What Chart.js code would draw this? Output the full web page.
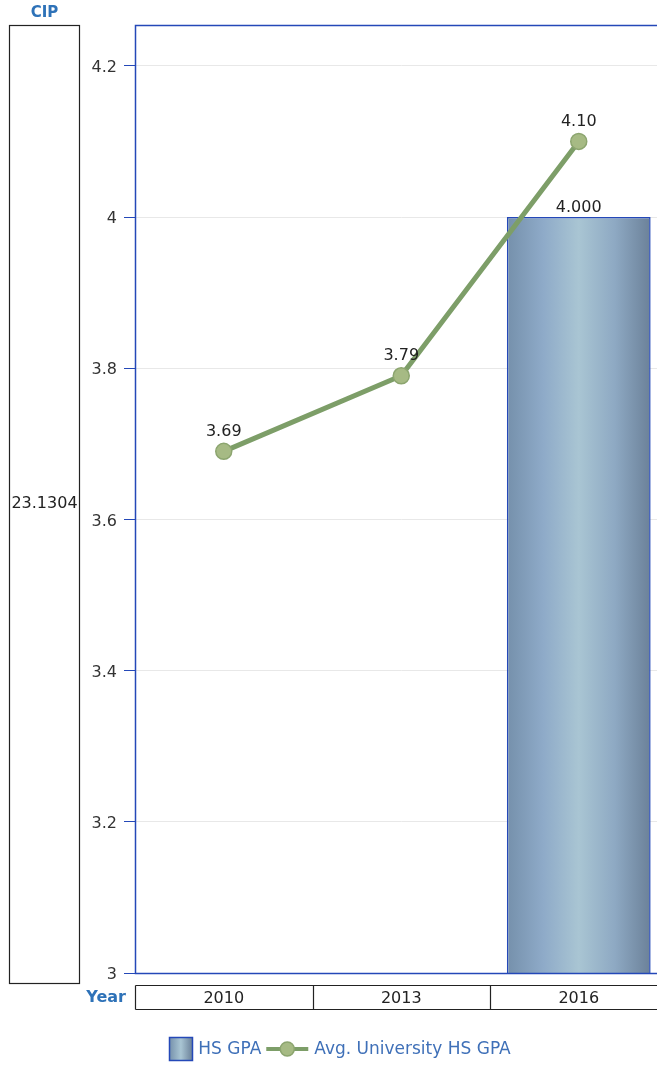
<!DOCTYPE html>
<html>
<head>
<meta charset="utf-8">
<script src="https://cdn.jsdelivr.net/npm/chart.js@4/dist/chart.umd.min.js"></script>
<style>
html,body{margin:0;padding:0;background:#fff;overflow:hidden;width:657px;height:1066px;}
canvas{display:block;}
</style>
</head>
<body>
<canvas id="c" width="680" height="1066"></canvas>
<script>
// ---- data ----
const years = ['2010', '2013', '2016'];
const hsGpa = [null, null, 4.0];
const avgUnivHsGpa = [3.69, 3.79, 4.10];
const yTicks = [3, 3.2, 3.4, 3.6, 3.8, 4, 4.2];
const yTickLabels = ['3', '3.2', '3.4', '3.6', '3.8', '4', '4.2'];
const cipValue = '23.1304';
const cipHeader = 'CIP';
const yearHeader = 'Year';
const seriesNames = ['HS GPA', 'Avg. University HS GPA'];

const FONT = 'DejaVu Sans';
const BLUE_BORDER = '#2448b8';
const HEADER_BLUE = '#2e72b8';
const LEGEND_BLUE = '#3f70b8';
const LINE_COLOR = '#7d9e68';
const POINT_FILL = '#a6ba84';
const POINT_BORDER = '#8ca56f';
const BAR_CAT_PCT = 0.81;

Chart.defaults.font.family = FONT;
Chart.defaults.font.size = 16;
Chart.defaults.color = '#222';

function makeBarGradient(ctx, x0, x1) {
  const g = ctx.createLinearGradient(x0, 0, x1, 0);
  g.addColorStop(0, '#7590ab');
  g.addColorStop(0.25, '#8eaac8');
  g.addColorStop(0.5, '#a9c5d3');
  g.addColorStop(0.75, '#8ea9c3');
  g.addColorStop(1, '#6b8199');
  return g;
}

const decorPlugin = {
  id: 'decor',
  beforeDatasetsDraw(chart) {
    const meta = chart.getDatasetMeta(1);
    meta.data.forEach((el) => {
      if (!isFinite(el.x) || !isFinite(el.width)) return;
      el.options.backgroundColor = makeBarGradient(chart.ctx, el.x - el.width / 2, el.x + el.width / 2);
    });
  },
  afterDraw(chart) {
    const ctx = chart.ctx;
    const a = chart.chartArea;
    const xs = chart.scales.x;
    ctx.save();
    // plot border
    ctx.strokeStyle = BLUE_BORDER;
    ctx.lineWidth = 1.5;
    ctx.strokeRect(Math.round(a.left) + 0.5, Math.round(a.top) + 0.5, Math.round(a.right - a.left), Math.round(a.bottom - a.top));

    // data labels
    ctx.fillStyle = '#222';
    ctx.font = '16px ' + FONT;
    ctx.textAlign = 'center';
    ctx.textBaseline = 'bottom';
    const barMeta = chart.getDatasetMeta(1);
    barMeta.data.forEach((el, i) => {
      if (hsGpa[i] == null) return;
      ctx.fillText(hsGpa[i].toFixed(3), el.x, el.y - 1);
    });
    const lineMeta = chart.getDatasetMeta(0);
    lineMeta.data.forEach((el, i) => {
      if (avgUnivHsGpa[i] == null) return;
      ctx.fillText(avgUnivHsGpa[i].toFixed(2), el.x, el.y - 12);
    });

    // left CIP box
    ctx.lineWidth = 1.2;
    ctx.strokeStyle = '#222';
    ctx.strokeRect(9.5, Math.round(a.top) + 0.5, 70, 958);
    ctx.textBaseline = 'middle';
    ctx.fillStyle = '#222';
    ctx.fillText(cipValue, 44.5, (a.top + 983) / 2);
    ctx.font = 'bold 15px ' + FONT;
    ctx.fillStyle = HEADER_BLUE;
    ctx.fillText(cipHeader, 44.5, 13);

    // Year table
    const tTop = 985.5, tBot = 1009.5;
    ctx.strokeStyle = '#222';
    ctx.beginPath();
    ctx.moveTo(a.left + 0.5, tTop); ctx.lineTo(a.right, tTop);
    ctx.moveTo(a.left + 0.5, tBot); ctx.lineTo(a.right, tBot);
    const cw = xs.width / years.length;
    for (let i = 0; i <= years.length; i++) {
      const x = Math.round(a.left + i * cw) + 0.5;
      ctx.moveTo(x, tTop); ctx.lineTo(x, tBot);
    }
    ctx.stroke();
    ctx.font = '16px ' + FONT;
    ctx.fillStyle = '#222';
    ctx.textAlign = 'center';
    years.forEach((y, i) => {
      ctx.fillText(y, xs.getPixelForValue(i), (tTop + tBot) / 2 + 1);
    });
    ctx.font = 'bold 16px ' + FONT;
    ctx.fillStyle = HEADER_BLUE;
    ctx.textAlign = 'right';
    ctx.fillText(yearHeader, 126, 998);

    // legend
    ctx.font = '17px ' + FONT;
    const w1 = ctx.measureText(seriesNames[0]).width;
    const w2 = ctx.measureText(seriesNames[1]).width;
    const total = 23 + 6 + w1 + 5 + 42 + 6 + w2;
    let x = chart.width / 2 - total / 2;
    const cy = 1049;
    const bg = ctx.createLinearGradient(x, 0, x + 23, 0);
    bg.addColorStop(0, '#7590ab');
    bg.addColorStop(0.5, '#a9c5d3');
    bg.addColorStop(1, '#6b8199');
    ctx.fillStyle = bg;
    ctx.fillRect(x, cy - 12, 23, 24);
    ctx.lineWidth = 1.5;
    ctx.strokeStyle = BLUE_BORDER;
    ctx.strokeRect(Math.round(x) + 0.5, cy - 12 + 0.5, 23, 23);
    x += 29;
    ctx.fillStyle = LEGEND_BLUE;
    ctx.textAlign = 'left';
    ctx.textBaseline = 'middle';
    ctx.fillText(seriesNames[0], x, cy + 1);
    x += w1 + 5;
    ctx.strokeStyle = LINE_COLOR;
    ctx.lineWidth = 4;
    ctx.beginPath(); ctx.moveTo(x, cy); ctx.lineTo(x + 42, cy); ctx.stroke();
    ctx.beginPath(); ctx.arc(x + 21, cy, 7, 0, Math.PI * 2);
    ctx.fillStyle = POINT_FILL; ctx.fill();
    ctx.lineWidth = 1.5; ctx.strokeStyle = POINT_BORDER; ctx.stroke();
    x += 48;
    ctx.fillStyle = LEGEND_BLUE;
    ctx.fillText(seriesNames[1], x, cy + 1);
    ctx.restore();
  }
};

new Chart(document.getElementById('c'), {
  data: {
    labels: years,
    datasets: [
      {
        type: 'line',
        label: seriesNames[1],
        data: avgUnivHsGpa,
        borderColor: LINE_COLOR,
        borderWidth: 5,
        pointRadius: 8,
        pointHoverRadius: 8,
        pointBackgroundColor: POINT_FILL,
        pointBorderColor: POINT_BORDER,
        pointBorderWidth: 1.5,
        tension: 0,
        order: 0
      },
      {
        type: 'bar',
        label: seriesNames[0],
        data: hsGpa,
        backgroundColor: '#8eaac6',
        borderColor: BLUE_BORDER,
        borderWidth: 1.5,
        categoryPercentage: BAR_CAT_PCT,
        barPercentage: 1,
        order: 1
      }
    ]
  },
  options: {
    responsive: false,
    animation: false,
    devicePixelRatio: 1,
    layout: { padding: { left: 80, right: 12.5, top: 25, bottom: 93 } },
    plugins: { legend: { display: false }, tooltip: { enabled: false } },
    scales: {
      x: { type: 'category', display: false, offset: true },
      y: {
        type: 'linear',
        min: 3,
        max: 4.254,
        afterFit(scale) { scale.width = 55; },
        afterBuildTicks(scale) { scale.ticks = yTicks.map(v => ({ value: v })); },
        ticks: {
          padding: 7,
          color: '#333',
          labelOffset: 2,
          font: { size: 16 },
          callback(v, i) { return yTickLabels[i]; }
        },
        grid: { color: '#e8e8e8', tickColor: BLUE_BORDER, tickLength: 11, lineWidth: 1 },
        border: { display: false }
      }
    }
  },
  plugins: [decorPlugin]
});
</script>
</body>
</html>
